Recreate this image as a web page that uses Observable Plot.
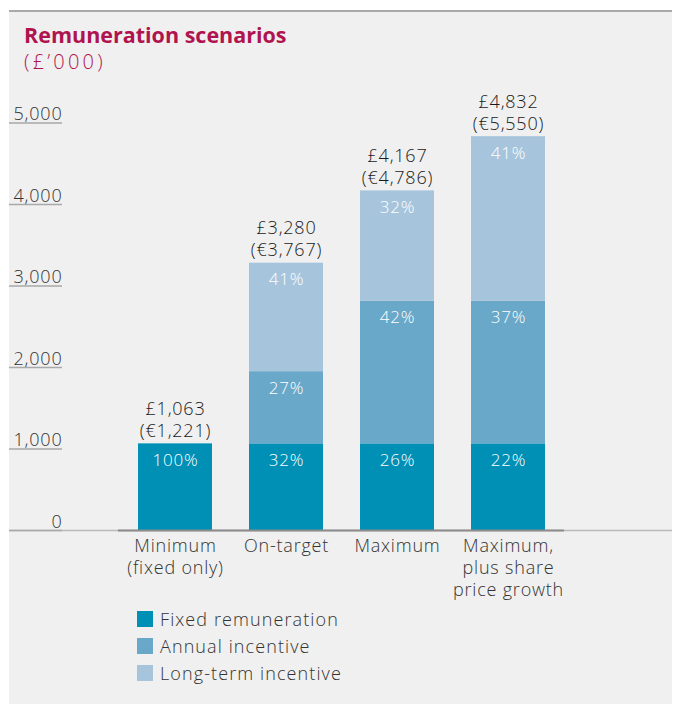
<!DOCTYPE html>
<html>
<head>
<meta charset="utf-8">
<script src="https://cdn.jsdelivr.net/npm/d3@7"></script>
<script src="https://cdn.jsdelivr.net/npm/@observablehq/plot@0.6"></script>
<style>
  body { margin: 0; background: #fff; font-family: "Open Sans", sans-serif; }
  #panel { position: absolute; left: 9px; top: 10px; width: 663px; height: 694px; background: #f0f0f0; border-top: 2px solid #a9a9a9; }
  #title { position: absolute; left: 15px; top: 10px; font-size: 21.5px; line-height: 26px; font-weight: 700; color: #b0144f; white-space: nowrap; }
  #subtitle { position: absolute; left: 15px; top: 37px; font-size: 20px; line-height: 26px; font-weight: 300; color: #b0144f; letter-spacing: 3.2px; white-space: nowrap; }
  #chart { position: absolute; left: 0; top: 68px; }
  #legend { position: absolute; left: 128px; top: 593.5px; }
  .row { display: flex; align-items: center; height: 27px; }
  .sw { width: 16px; height: 16px; margin-right: 7px; }
  .lab { font-size: 18px; font-weight: 300; color: #333; letter-spacing: 1.1px; white-space: nowrap; }
  #chart svg text { letter-spacing: 0.8px; }
</style>
</head>
<body>
<div id="panel">
  <div id="title">Remuneration scenarios</div>
  <div id="subtitle">(£’000)</div>
  <div id="chart"></div>
  <div id="legend"></div>
</div>
<script>
// ---- data ----
const scenarios = ["Minimum\n(fixed only)", "On-target", "Maximum", "Maximum,\nplus share\nprice growth"];
const components = ["Fixed remuneration", "Annual incentive", "Long-term incentive"];
const componentColors = ["#0090b6", "#69a8c8", "#a6c5dd"];
const fixedValues = [1063, 1063, 1063, 1063];
const annualValues = [0, 886, 1750, 1750];
const ltiValues = [0, 1331, 1354, 2019];
const fixedPct = ["100%", "32%", "26%", "22%"];
const annualPct = ["", "27%", "42%", "37%"];
const ltiPct = ["", "41%", "32%", "41%"];
const totals = [1063, 3280, 4167, 4832];
const totalsGBP = ["£1,063", "£3,280", "£4,167", "£4,832"];
const totalsEUR = ["(€1,221)", "(€3,767)", "(€4,786)", "(€5,550)"];
const yTicks = [0, 1000, 2000, 3000, 4000, 5000];

// ---- tables built from the arrays ----
const seriesValues = [fixedValues, annualValues, ltiValues];
const seriesPct = [fixedPct, annualPct, ltiPct];
const rows = [];
scenarios.forEach((s, i) => {
  components.forEach((c, j) => {
    rows.push({scenario: s, component: c, value: seriesValues[j][i], pct: seriesPct[j][i]});
  });
});
const totalRows = scenarios.map((s, i) => ({scenario: s, total: totals[i], label: totalsGBP[i] + "\n" + totalsEUR[i]}));

const W = 663, H = 525, ML = 109, MR = 108, MT = 42.5, MB = 75;

const chart = Plot.plot({
  width: W,
  height: H,
  marginLeft: ML,
  marginRight: MR,
  marginTop: MT,
  marginBottom: MB,
  style: {fontFamily: "Open Sans, sans-serif", fontSize: "18px", fontWeight: 300, background: "transparent", overflow: "visible"},
  x: {domain: scenarios, paddingInner: 0.337, paddingOuter: 0.17, label: null},
  y: {domain: [0, 5000], label: null},
  color: {domain: components, range: componentColors},
  marks: [
    // light full-width baseline
    Plot.ruleY([0], {stroke: "#b9b9b9", strokeWidth: 1.5, insetLeft: -ML, insetRight: -MR}),
    // y tick underlines
    Plot.axisY({ticks: yTicks, tickSize: 53, dx: 53 - ML, stroke: "#a9a9a9", strokeWidth: 1.5, tickFormat: () => "", label: null}),
    // y tick labels
    Plot.axisY({ticks: yTicks, tickSize: 0, tickPadding: 0, dx: 53 - ML, dy: -8.5, tickFormat: d3.format(","), fill: "#333", fontSize: 18, label: null}),
    Plot.barY(rows, {x: "scenario", y: "value", fill: "component", z: "component"}),
    // darker baseline under the bars
    Plot.ruleY([0], {stroke: "#8c8c8c", strokeWidth: 2}),
    // percentage labels
    Plot.text(rows, Plot.stackY2({x: "scenario", y: "value", z: "component", text: "pct", fill: "white", fontSize: 17, lineAnchor: "top", dy: 10})),
    // totals above bars
    Plot.text(totalRows, {x: "scenario", y: "total", text: "label", lineAnchor: "bottom", lineHeight: 1.22, dy: -7, fill: "#1a1a1a", fontSize: 18}),
    Plot.axisX({tickSize: 0, tickPadding: 6, lineHeight: 1.22, fill: "#333", fontSize: 18, label: null})
  ]
});
document.getElementById("chart").appendChild(chart);

// ---- legend ----
const legend = document.getElementById("legend");
components.forEach((c, i) => {
  const row = document.createElement("div");
  row.className = "row";
  const sw = document.createElement("div");
  sw.className = "sw";
  sw.style.background = componentColors[i];
  const lab = document.createElement("div");
  lab.className = "lab";
  lab.textContent = c;
  row.appendChild(sw);
  row.appendChild(lab);
  legend.appendChild(row);
});
</script>
</body>
</html>
